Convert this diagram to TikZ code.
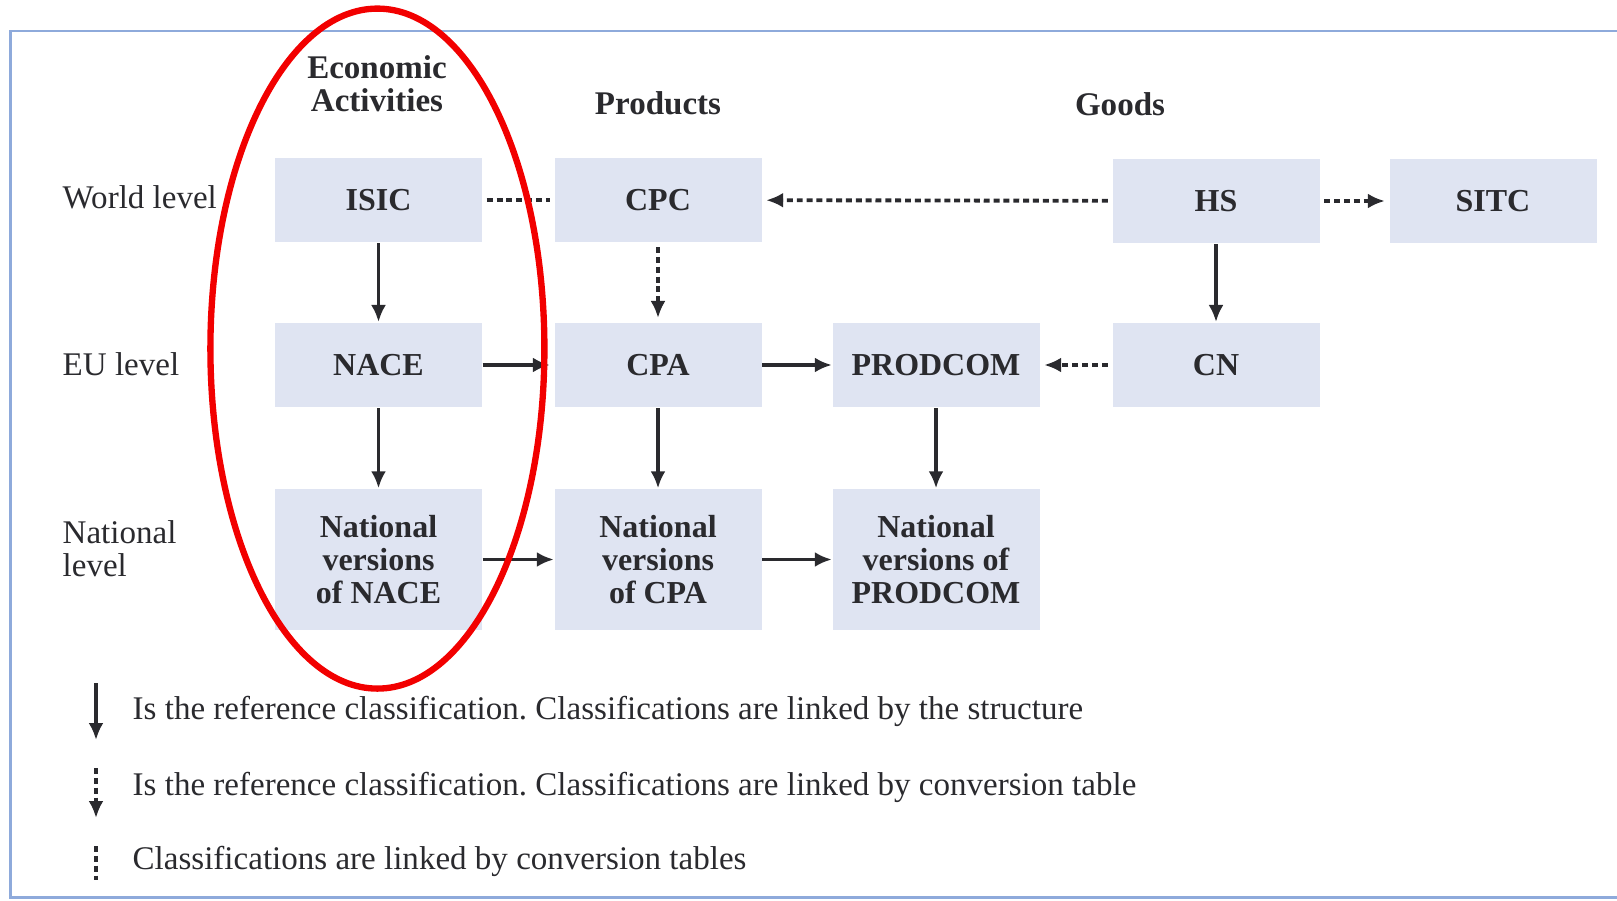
\documentclass[tikz,border=0pt]{standalone}
\usepackage{fontspec}
\setmainfont{Liberation Serif}
\usetikzlibrary{arrows.meta}
\definecolor{boxfill}{HTML}{DFE4F2}
\definecolor{framecol}{HTML}{8EAADB}
\definecolor{ink}{HTML}{2A2A2E}
\definecolor{ringred}{HTML}{F20000}
\frenchspacing
\begin{document}
\begin{tikzpicture}[every node/.style={font=\fontsize{9.4}{9.4}\selectfont,text=ink},
    box/.style={fill=boxfill,minimum width=2.07cm,minimum height=0.846cm,inner sep=0pt,align=center,font=\bfseries\fontsize{9.1}{9.4}\selectfont},
    natbox/.style={box,minimum height=1.41cm},
    head/.style={align=center,font=\bfseries\fontsize{9.4}{9.4}\selectfont},
    lab/.style={anchor=west,inner sep=0pt},
    struct/.style={ink,line width=1pt,-{Latex[length=1.7mm,width=1.5mm]}},
    conv/.style={ink,line width=1.1pt,dash pattern=on 1.7pt off 1.1pt,shorten <=0.4mm,shorten >=0.4mm},
    convarrow/.style={conv,-{Latex[length=1.7mm,width=1.5mm]}}]
    \useasboundingbox (0,0) rectangle (16.17,9);

    % Frame
    \draw[framecol,line width=0.85pt] (16.5,8.69) -- (0.105,8.69) -- (0.105,0.03) -- (16.5,0.03);

    % Column headings
    \node[head] (econ) at (3.77,8.165) {Economic\\Activities};
    \node[head] (prod) at (6.58,7.97) {Products};
    \node[head] (goods) at (11.2,7.96) {Goods};

    % Row labels
    \node[lab] (world) at (0.62,7.03) {World level};
    \node[lab] (eu) at (0.62,5.36) {EU level};
    \node[lab,align=left] (nat) at (0.62,3.515) {National\\level};

    % Classifications
    \node[box] (isic) at (3.785,7.00) {ISIC};
    \node[box] (cpc) at (6.58,7.00) {CPC};
    \node[box] (hs) at (12.16,6.99) {HS};
    \node[box] (sitc) at (14.93,6.99) {SITC};
    \node[box] (nace) at (3.785,5.35) {NACE};
    \node[box] (cpa) at (6.58,5.35) {CPA};
    \node[box] (prodcom) at (9.36,5.35) {PRODCOM};
    \node[box] (cn) at (12.16,5.35) {CN};
    \node[natbox] (natnace) at (3.785,3.405) {National\\versions\\of NACE};
    \node[natbox] (natcpa) at (6.58,3.405) {National\\versions\\of CPA};
    \node[natbox] (natprodcom) at (9.36,3.405) {National\\versions of\\PRODCOM};

    % Linked by the structure
    \draw[struct] (isic) -- (nace);
    \draw[struct] (nace) -- (natnace);
    \draw[struct] (cpa) -- (natcpa);
    \draw[struct] (prodcom) -- (natprodcom);
    \draw[struct] (hs) -- (cn);
    \draw[struct,shorten >=0.4mm] (nace) -- (cpa);
    \draw[struct] (cpa) -- (prodcom);
    \draw[struct] (natnace) -- (natcpa);
    \draw[struct] (natcpa) -- (natprodcom);

    % Linked by conversion tables
    \draw[conv] (isic) -- (cpc);
    \draw[convarrow] (cpc) -- (cpa);
    \draw[convarrow] (hs) -- (cpc);
    \draw[convarrow] (hs) -- (sitc);
    \draw[convarrow] (cn) -- (prodcom);

    % Legend
    \coordinate (l1a) at (0.96,2.17);
    \coordinate (l1b) at (0.96,1.60);
    \coordinate (l2a) at (0.96,1.32);
    \coordinate (l2b) at (0.96,0.82);
    \coordinate (l3a) at (0.96,0.54);
    \coordinate (l3b) at (0.96,0.20);
    \draw[struct] (l1a) -- (l1b);
    \draw[convarrow,shorten <=0pt,shorten >=0pt] (l2a) -- (l2b);
    \draw[conv,shorten <=0pt,shorten >=0pt] (l3a) -- (l3b);
    \node[lab] (leg1) at (1.32,1.89) {Is the reference classification. Classifications are linked by the structure};
    \node[lab] (leg2) at (1.32,1.13) {Is the reference classification. Classifications are linked by conversion table};
    \node[lab] (leg3) at (1.32,0.39) {Classifications are linked by conversion tables};

    % Highlight
    \draw[ringred,line width=1.8pt] (3.774,5.514) ellipse [x radius=1.67,y radius=3.40];
\end{tikzpicture}
\end{document}
